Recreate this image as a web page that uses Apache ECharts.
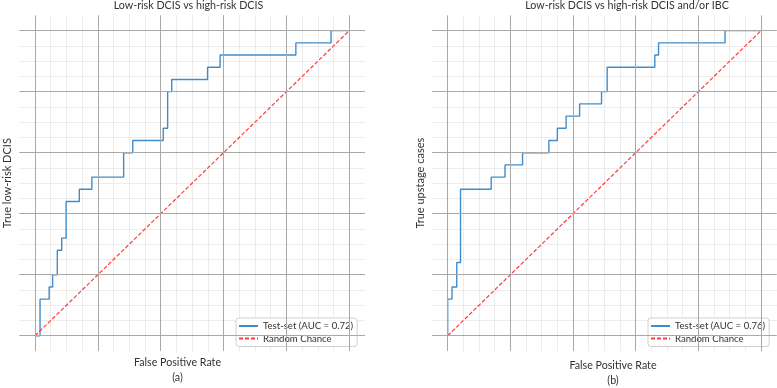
<!DOCTYPE html>
<html>
<head>
<meta charset="utf-8">
<script src="https://cdn.jsdelivr.net/npm/echarts@6/dist/echarts.min.js"></script>
<style>
  html, body { margin: 0; padding: 0; background: #fff; }
  #chart { width: 777px; height: 388px; }
</style>
</head>
<body>
<div id="chart"></div>
<script>
// ROC points (step turns)
const fprA = [0, 0.016, 0.045, 0.056, 0.071, 0.085, 0.099, 0.141, 0.181, 0.282, 0.311, 0.408, 0.422, 0.435, 0.549, 0.589, 0.830, 0.942, 1.0];
const tprA = [0, 0.12, 0.16, 0.20, 0.28, 0.32, 0.44, 0.48, 0.52, 0.60, 0.64, 0.68, 0.80, 0.84, 0.88, 0.92, 0.96, 1.0, 1.0];
const fprB = [0, 0, 0.014, 0.029, 0.041, 0.139, 0.183, 0.239, 0.323, 0.350, 0.378, 0.421, 0.491, 0.509, 0.661, 0.673, 0.885, 1.0];
const tprB = [0, 0.12, 0.16, 0.24, 0.48, 0.52, 0.56, 0.60, 0.64, 0.68, 0.72, 0.76, 0.80, 0.88, 0.92, 0.96, 1.0, 1.0];
const chanceX = [0, 1];
const chanceY = [0, 1];
const majorTicks = [0, 0.2, 0.4, 0.6, 0.8, 1.0];

const titles = ["Low-risk DCIS vs high-risk DCIS", "Low-risk DCIS vs high-risk DCIS and/or IBC"];
const yNames = ["True low-risk DCIS", "True upstage cases"];
const rocNames = ["Test-set (AUC = 0.72)", "Test-set (AUC = 0.76)"];
const chanceName = "Random Chance";
const xName = "False Positive Rate";
const panelTags = ["(a)", "(b)"];

const FONT = "Lato";
const TXT = "#333";

function pairs(xs, ys) {
  return xs.map((x, i) => [x, ys[i]]);
}

function axis(gridIndex, name) {
  return {
    type: "value",
    gridIndex: gridIndex,
    min: -0.05,
    max: 1.05,
    interval: 0.05,
    name: name,
    nameLocation: "middle",
    nameGap: 6,
    nameTextStyle: { color: TXT, fontFamily: FONT, fontSize: 11 },
    axisLine: { show: false },
    axisTick: { show: false },
    axisLabel: { show: false },
    splitLine: {
      show: true,
      showMinLine: false,
      showMaxLine: false,
      lineStyle: { color: "#ececec", width: 1 },
    },
  };
}

const majorLines = majorTicks.map((v) => ({ xAxis: v })).concat(majorTicks.map((v) => ({ yAxis: v })));

function panelSeries(i, fpr, tpr) {
  return [
    {
      // major grid lines
      type: "line",
      xAxisIndex: i,
      yAxisIndex: i,
      data: pairs(chanceX, chanceY),
      symbol: "none",
      lineStyle: { width: 0, opacity: 0 },
      silent: true,
      z: 1,
      markLine: {
        silent: true,
        symbol: "none",
        label: { show: false },
        lineStyle: { color: "#a8a8a8", width: 1, type: "solid" },
        data: majorLines,
      },
    },
    {
      name: rocNames[i],
      type: "line",
      xAxisIndex: i,
      yAxisIndex: i,
      data: pairs(fpr, tpr),
      step: "end",
      symbol: "none",
      lineStyle: { color: "#3f8dcc", width: 1.4 },
      itemStyle: { color: "#3f8dcc" },
      z: 3,
    },
    {
      name: chanceName,
      type: "line",
      xAxisIndex: i,
      yAxisIndex: i,
      data: pairs(chanceX, chanceY),
      symbol: "none",
      lineStyle: { color: "#ff3b3b", width: 1.2, type: [4, 2] },
      itemStyle: { color: "#ff3b3b" },
      z: 4,
    },
  ];
}

function legend(left, names) {
  return {
    left: left,
    top: 318,
    orient: "vertical",
    data: names,
    itemWidth: 19,
    itemHeight: 8,
    itemGap: 2.5,
    padding: [3, 4, 3, 2],
    backgroundColor: "#fff",
    borderColor: "#d0d0d0",
    borderWidth: 1,
    borderRadius: 3,
    itemStyle: { opacity: 0 },
    textStyle: { color: TXT, fontFamily: FONT, fontSize: 9.6 },
  };
}

function label(x, y, text) {
  return {
    type: "text",
    x: x,
    y: y,
    style: {
      text: text,
      fill: TXT,
      font: "10.7px " + FONT,
      textAlign: "center",
      textVerticalAlign: "middle",
    },
  };
}

const chart = echarts.init(document.getElementById("chart"));
chart.setOption({
  animation: false,
  backgroundColor: "#fff",
  grid: [
    { left: 19.3, top: 15.4, width: 345.7, height: 335.6 },
    { left: 432, top: 15.4, width: 344.7, height: 335.6 },
  ],
  xAxis: [axis(0, ""), axis(1, "")],
  yAxis: [axis(0, yNames[0]), axis(1, yNames[1])],
  legend: [
    legend(236, [rocNames[0], chanceName]),
    legend(648, [rocNames[1], chanceName]),
  ],
  graphic: [
    label(188.5, 6, titles[0]),
    label(627, 6, titles[1]),
    label(177.5, 362.5, xName),
    label(177.5, 377.5, panelTags[0]),
    label(613, 365.5, xName),
    label(613, 381, panelTags[1]),
  ],
  series: panelSeries(0, fprA, tprA).concat(panelSeries(1, fprB, tprB)),
});
</script>
</body>
</html>
